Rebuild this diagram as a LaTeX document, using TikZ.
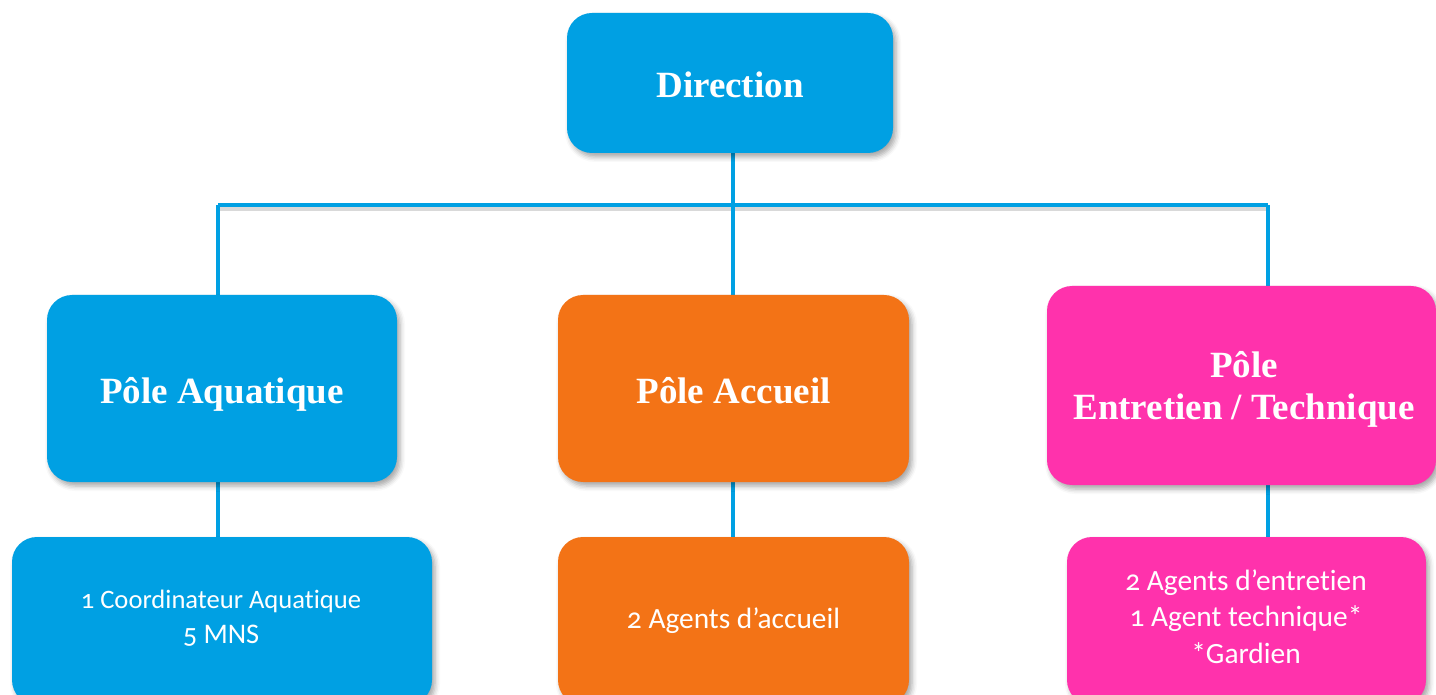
\documentclass[tikz,border=0pt]{standalone}
\usepackage{fontspec}
\setmainfont{Liberation Serif}
\newfontfamily\bodyfont{Carlito}[Numbers=OldStyle, Ligatures=NoCommon]
\usetikzlibrary{shadows.blur,backgrounds}
\definecolor{cblue}{RGB}{0,160,227}
\definecolor{corange}{RGB}{243,115,22}
\definecolor{cpink}{RGB}{255,50,172}
\tikzset{
  box/.style={rectangle, rounded corners=12.5pt, draw=none, inner sep=0pt,
    blur shadow={shadow xshift=1.5pt, shadow yshift=-2pt, shadow blur radius=2.5pt, shadow opacity=35}},
  titletext/.style={text=white, align=center, anchor=base, inner sep=0pt,
    font=\bfseries\fontsize{18.5}{21}\selectfont},
  detailtext/.style={text=white, align=center, anchor=base, inner sep=0pt,
    font=\bodyfont\fontsize{14.7}{18.25}\selectfont},
  conn/.style={draw=cblue, line width=2pt}
}
\begin{document}
\begin{tikzpicture}[x=0.5pt,y=-0.5pt]
\useasboundingbox (0,0) rectangle (1436,695);
% boxes
\node[box, fill=cblue, minimum width=163pt, minimum height=70pt] (dir) at (730,83) {};
\node[box, fill=cblue, minimum width=175pt, minimum height=93.5pt] (aqua) at (222,388.5) {};
\node[box, fill=corange, minimum width=175.5pt, minimum height=93.5pt] (acc) at (733.5,388.5) {};
\node[box, fill=cpink, minimum width=194.5pt, minimum height=99.5pt] (ent) at (1241.5,385.5) {};
\node[box, fill=cblue, minimum width=210pt, minimum height=84pt] (aquad) at (222,621) {};
\node[box, fill=corange, minimum width=175.5pt, minimum height=84pt] (accd) at (733.5,621) {};
\node[box, fill=cpink, minimum width=179.5pt, minimum height=84pt] (entd) at (1246.5,621) {};
% texts (base anchor = baseline of the last line)
\node[titletext] (dirt) at (730,98) {Direction};
\node[titletext] (aquat) at (222,403) {Pôle Aquatique};
\node[titletext] (acct) at (733.5,403) {Pôle Accueil};
\node[titletext] (entt) at (1244,420) {Pôle\\Entretien / Technique};
\node[detailtext, font=\bodyfont\fontsize{13.3}{17.5}\selectfont] (aquadt) at (221,643) {1 Coordinateur Aquatique\\{\fontsize{14.2}{17.5}\selectfont 5 MNS}};
\node[detailtext] (accdt) at (733.5,628) {2 Agents d’accueil};
\node[detailtext] (entdt) at (1246,663) {2 Agents d’entretien\\1 Agent technique*\\*Gardien};
% connectors
\coordinate (hl) at (218,205);
\coordinate (hr) at (1268,205);
\coordinate (hm) at (733,205);
\begin{scope}[on background layer]
  \draw[line width=2pt, black, opacity=0.15] ([yshift=-2pt]hl) -- ([yshift=-2pt]hr);
  \draw[conn] (hl) -- (hr);
  \draw[conn] (hm |- dir.south) -- (hm |- acc.north);
  \draw[conn] (hl) -- (hl |- aqua.north);
  \draw[conn] (hr) -- (hr |- ent.north);
  \draw[conn] (hl |- aqua.south) -- (hl |- aquad.north);
  \draw[conn] (hm |- acc.south) -- (hm |- accd.north);
  \draw[conn] (hr |- ent.south) -- (hr |- entd.north);
\end{scope}
\end{tikzpicture}
\end{document}
